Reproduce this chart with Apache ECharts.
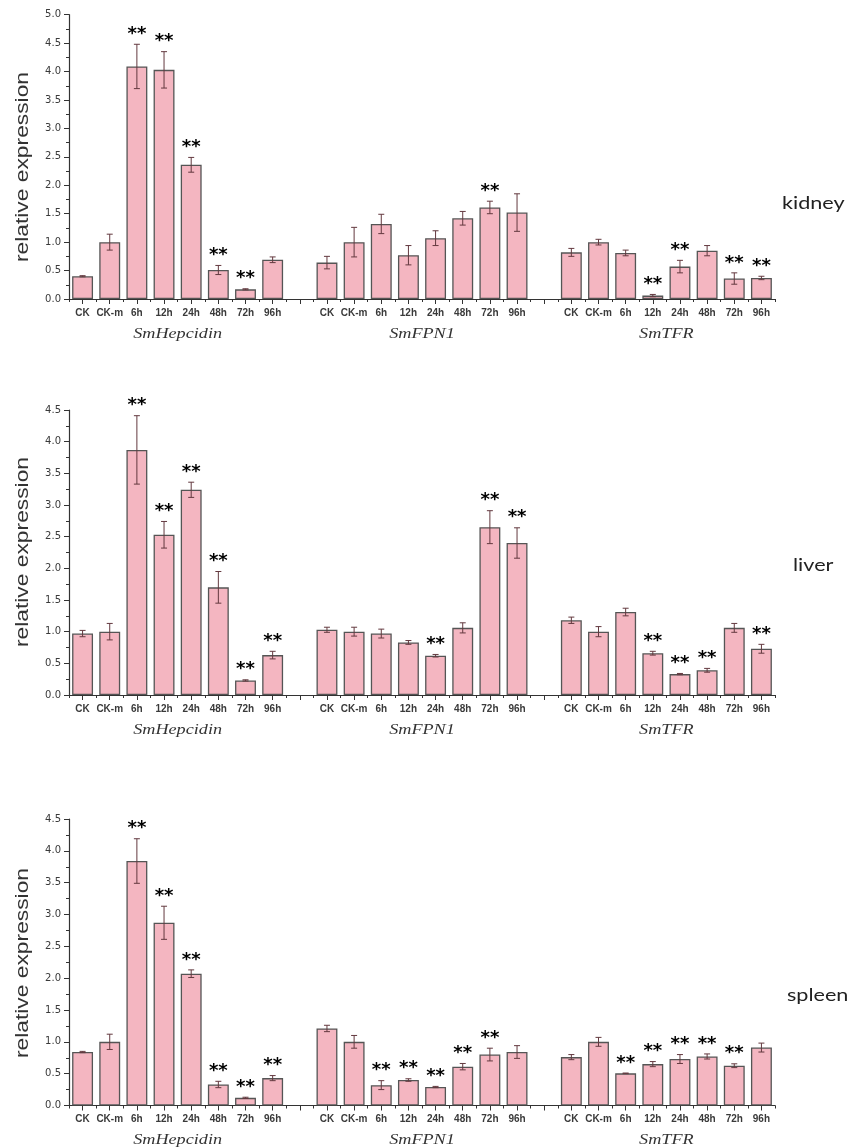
<!DOCTYPE html>
<html>
<head>
<meta charset="utf-8">
<script src="https://cdn.jsdelivr.net/npm/echarts@6/dist/echarts.min.js"></script>
<style>
  html, body { margin: 0; padding: 0; background: #fff; }
  #chart { width: 853px; height: 1148px; }
</style>
</head>
<body>
<div id="chart"></div>
<script>
// Sampling points and genes
const timepoints = ['CK', 'CK-m', '6h', '12h', '24h', '48h', '72h', '96h'];
const genes = ['SmHepcidin', 'SmFPN1', 'SmTFR'];
const tissues = ['kidney', 'liver', 'spleen'];
const yMax = [5.0, 4.5, 4.5];

// Mean relative expression: 8 time points each for SmHepcidin, SmFPN1, SmTFR
const kidneyMean = [0.40, 1.00, 4.09, 4.03, 2.36, 0.51, 0.17, 0.69,
                    0.64, 1.00, 1.32, 0.77, 1.07, 1.42, 1.61, 1.52,
                    0.82, 1.00, 0.81, 0.06, 0.57, 0.85, 0.36, 0.37];
const kidneyErr  = [0.01, 0.14, 0.39, 0.32, 0.13, 0.08, 0.01, 0.05,
                    0.11, 0.26, 0.17, 0.17, 0.13, 0.12, 0.11, 0.33,
                    0.07, 0.05, 0.05, 0.02, 0.11, 0.09, 0.10, 0.03];
const kidneySig  = [0, 0, 1, 1, 1, 1, 1, 0,
                    0, 0, 0, 0, 0, 0, 1, 0,
                    0, 0, 0, 1, 1, 0, 1, 1];

const liverMean = [0.97, 1.00, 3.87, 2.53, 3.24, 1.70, 0.23, 0.63,
                   1.03, 1.00, 0.97, 0.83, 0.62, 1.06, 2.65, 2.40,
                   1.18, 1.00, 1.31, 0.66, 0.33, 0.39, 1.06, 0.73];
const liverErr  = [0.05, 0.13, 0.54, 0.21, 0.12, 0.25, 0.01, 0.06,
                   0.04, 0.07, 0.07, 0.03, 0.02, 0.08, 0.26, 0.24,
                   0.05, 0.08, 0.06, 0.03, 0.01, 0.03, 0.07, 0.07];
const liverSig  = [0, 0, 1, 1, 1, 1, 1, 1,
                   0, 0, 0, 0, 1, 0, 1, 1,
                   0, 0, 0, 1, 1, 1, 0, 1];

const spleenMean = [0.84, 1.00, 3.84, 2.87, 2.07, 0.33, 0.12, 0.43,
                    1.21, 1.00, 0.32, 0.40, 0.29, 0.61, 0.80, 0.84,
                    0.76, 1.00, 0.505, 0.65, 0.73, 0.77, 0.625, 0.91];
const spleenErr  = [0.01, 0.12, 0.35, 0.26, 0.06, 0.05, 0.01, 0.04,
                    0.05, 0.10, 0.07, 0.02, 0.01, 0.05, 0.10, 0.10,
                    0.04, 0.07, 0.005, 0.04, 0.07, 0.04, 0.03, 0.07];
const spleenSig  = [0, 0, 1, 1, 1, 1, 1, 1,
                    0, 0, 1, 1, 1, 1, 1, 0,
                    0, 0, 1, 1, 1, 1, 1, 0];

const panelMeans = [kidneyMean, liverMean, spleenMean];
const panelErrs = [kidneyErr, liverErr, spleenErr];
const panelSigs = [kidneySig, liverSig, spleenSig];

// Category slots: 8 per gene with one empty slot between gene groups
const slots = [];
genes.forEach((g, gi) => {
  timepoints.forEach(t => slots.push(g + '|' + t));
  if (gi < genes.length - 1) slots.push('gap' + gi);
});
const slotOf = (gi, ti) => gi * (timepoints.length + 1) + ti;

// Layout of the three panels
const gridTop = [14.7, 410, 819];
const gridBottom = [299, 695, 1105.5];
const gridLeft = 69, gridRight = 775;
const yNameCenter = [167, 552, 963];
const tissuePos = [[782, 203], [793, 565], [787, 995]];

const AXIS = '#333';
const BAR_FILL = '#f4b6c1';
const BAR_EDGE = '#555';
const ERR = '#63393f';

function errorRender(params, api) {
  const x = api.value(0), m = api.value(1), e = api.value(2), s = api.value(3);
  const top = api.coord([x, m + e]);
  const bot = api.coord([x, Math.max(0, m - e)]);
  const cap = 3;
  const st = { stroke: ERR, lineWidth: 1 };
  const children = [
    { type: 'line', shape: { x1: top[0], y1: top[1], x2: bot[0], y2: bot[1] }, style: st },
    { type: 'line', shape: { x1: top[0] - cap, y1: top[1], x2: top[0] + cap, y2: top[1] }, style: st },
    { type: 'line', shape: { x1: bot[0] - cap, y1: bot[1], x2: bot[0] + cap, y2: bot[1] }, style: st }
  ];
  if (s) {
    children.push({
      type: 'text', x: top[0], y: top[1] - 10,
      style: {
        text: '**', fill: '#000',
        font: 'bold 18px "DejaVu Sans"',
        align: 'center', verticalAlign: 'middle'
      }
    });
  }
  return { type: 'group', children };
}

function geneLabelRender(params, api) {
  const a = api.coord([api.value(0), 0]);
  const b = api.coord([api.value(2), 0]);
  return {
    type: 'text',
    x: (a[0] + b[0]) / 2, y: a[1] + 35,
    scaleX: 1.3,
    style: {
      text: genes[params.dataIndex], fill: '#333',
      font: 'italic 14px "Liberation Serif"',
      align: 'center', verticalAlign: 'middle'
    }
  };
}

const grid = [], xAxis = [], yAxis = [], series = [], graphic = [];

for (let p = 0; p < 3; p++) {
  const h = gridBottom[p] - gridTop[p];
  grid.push({ left: gridLeft, top: gridTop[p], width: gridRight - gridLeft, height: h });

  // main axis: labels and short ticks between categories
  xAxis.push({
    type: 'category', gridIndex: p, data: slots, position: 'bottom',
    axisLine: { lineStyle: { color: AXIS, width: 1.2 } },
    axisTick: { show: true, interval: 0, length: 3, lineStyle: { color: AXIS } },
    axisLabel: {
      interval: 0, margin: 9, color: '#3a3a3a',
      fontFamily: 'Liberation Sans', fontWeight: 'bold', fontSize: 10,
      formatter: v => v.startsWith('gap') ? '' : v.split('|')[1]
    },
    splitLine: { show: false }
  });
  // companion axis drawn on the baseline: ticks at category centres
  xAxis.push({
    type: 'category', gridIndex: p, data: slots, position: 'top', offset: -h,
    axisLine: { show: false },
    axisTick: { show: true, inside: true, alignWithLabel: true, interval: 0, length: 5, lineStyle: { color: AXIS } },
    axisLabel: { show: false },
    splitLine: { show: false }
  });

  yAxis.push({
    type: 'value', gridIndex: p, min: 0, max: yMax[p], interval: 0.5,
    axisLine: { show: true, lineStyle: { color: AXIS, width: 1.2 } },
    axisTick: { show: true, length: 5, lineStyle: { color: AXIS } },
    minorTick: { show: true, splitNumber: 2, length: 3, lineStyle: { color: AXIS } },
    splitLine: { show: false },
    axisLabel: {
      margin: 8, color: '#3a3a3a', fontFamily: 'DejaVu Sans', fontSize: 10,
      formatter: v => v.toFixed(1)
    }
  });

  const means = panelMeans[p], errs = panelErrs[p], sigs = panelSigs[p];
  const barData = slots.map(() => '-');
  const errData = [];
  genes.forEach((g, gi) => {
    timepoints.forEach((t, ti) => {
      const k = gi * timepoints.length + ti;
      const s = slotOf(gi, ti);
      barData[s] = means[k];
      errData.push([s, means[k], errs[k], sigs[k]]);
    });
  });

  series.push({
    type: 'bar', xAxisIndex: p * 2, yAxisIndex: p,
    data: barData, barWidth: '77%',
    itemStyle: { color: BAR_FILL, borderColor: BAR_EDGE, borderWidth: 1.3 },
    silent: true
  });
  series.push({
    type: 'custom', xAxisIndex: p * 2, yAxisIndex: p,
    data: errData, renderItem: errorRender, z: 5, silent: true,
    encode: { x: 0, y: 1 }
  });
  series.push({
    type: 'custom', xAxisIndex: p * 2, yAxisIndex: p,
    data: genes.map((g, gi) => [slotOf(gi, 0), 0, slotOf(gi, timepoints.length - 1)]),
    renderItem: geneLabelRender, silent: true, clip: false,
    encode: { x: 0, y: 1 }
  });

  graphic.push({
    type: 'text', x: 23, y: yNameCenter[p], rotation: Math.PI / 2, scaleX: 1.2,
    style: {
      text: 'relative expression', fill: '#333',
      font: '19px "Liberation Sans"', align: 'center', verticalAlign: 'middle'
    }
  });
  graphic.push({
    type: 'text', x: tissuePos[p][0], y: tissuePos[p][1], scaleX: 1.2,
    style: {
      text: tissues[p], fill: '#222',
      font: '18px "Lato"', align: 'left', verticalAlign: 'middle'
    }
  });
}

const chart = echarts.init(document.getElementById('chart'), null, { renderer: 'canvas' });
chart.setOption({
  animation: false,
  backgroundColor: '#fff',
  grid, xAxis, yAxis, series, graphic
});
</script>
</body>
</html>
